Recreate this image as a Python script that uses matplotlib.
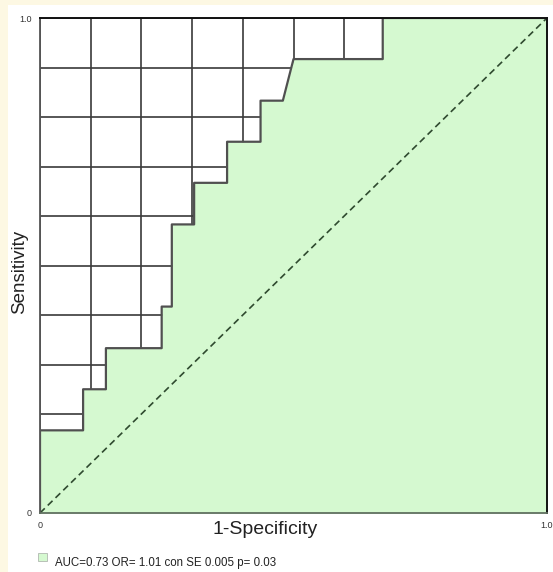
import numpy as np
import matplotlib
matplotlib.use("Agg")
import matplotlib.pyplot as plt
from matplotlib.patches import Rectangle

plt.rcParams["font.family"] = ["Liberation Sans", "DejaVu Sans"]

# ROC curve vertices (1-specificity, sensitivity)
fpr = [0.0, 0.0, 0.085, 0.085, 0.130, 0.130, 0.240, 0.240, 0.260, 0.260, 0.304,
       0.304, 0.369, 0.369, 0.435, 0.435, 0.479, 0.500, 0.676, 0.676, 1.0]
tpr = [0.0, 0.167, 0.167, 0.250, 0.250, 0.333, 0.333, 0.417, 0.417, 0.583, 0.583,
       0.667, 0.667, 0.750, 0.750, 0.833, 0.833, 0.917, 0.917, 1.0, 1.0]

legend_text = "AUC=0.73 OR= 1.01 con SE 0.005 p= 0.03"

W, H = 553, 572
fig = plt.figure(figsize=(W / 100, H / 100), dpi=100)
fig.patch.set_facecolor("#fdf8e3")

# white panel behind everything
fig.patches.append(Rectangle((8 / W, 0), 1, 1 - 5 / H, transform=fig.transFigure,
                             facecolor="white", edgecolor="none", zorder=-10))

ax = fig.add_axes([40 / W, 1 - 513 / H, 507 / W, 495 / H])
ax.set_facecolor("white")
ax.set_xlim(0, 1)
ax.set_ylim(0, 1)

# grid every 0.1, hidden under the fill
grid = np.round(np.arange(0, 1.01, 0.1), 1)
ax.set_xticks(grid, minor=True)
ax.set_yticks(grid, minor=True)
ax.set_xticks([0, 1], labels=["0", "1.0"])
ax.set_yticks([0, 1], labels=["0", "1.0"])
ax.tick_params(which="both", length=0, labelsize=6.5, labelcolor="#333333")
ax.tick_params(axis="x", pad=6)
ax.tick_params(axis="y", pad=6)
ax.grid(which="both", color="#3a3a3a", lw=1.2)
ax.set_axisbelow(True)

ax.fill_between(fpr, tpr, 0, color="#d5f9d0", lw=0, zorder=1)
ax.plot(fpr, tpr, color="#505050", lw=1.6, zorder=2)
ax.plot([0, 1], [0, 1], color="#2f4a2f", lw=1.2, ls=(0, (4, 2.5)), zorder=2)

for side in ("top", "right"):
    ax.spines[side].set_color("#111111")
    ax.spines[side].set_linewidth(1.4)
ax.spines["left"].set_color("#555555")
ax.spines["bottom"].set_color("#607060")
ax.spines["left"].set_linewidth(1.3)
ax.spines["bottom"].set_linewidth(1.3)
for lbl in ax.get_xticklabels():
    lbl.set_clip_on(False)

fig.text(265 / W, 1 - 530 / H, "1-Specificity", ha="center", va="center",
         fontsize=14, color="#222222")
fig.text(20 / W, 1 - 272 / H, "Sensitivity", ha="center", va="center",
         rotation=90, fontsize=13.5, color="#222222")

fig.patches.append(Rectangle((38 / W, 1 - 561 / H), 9 / W, 8 / H,
                             transform=fig.transFigure, facecolor="#d5f9d0",
                             edgecolor="#b0b8b0", lw=0.6))
fig.text(55 / W, 1 - 563 / H, legend_text, ha="left", va="center",
         fontsize=8.3, color="#222222")

fig.savefig("out.png", dpi=100)
